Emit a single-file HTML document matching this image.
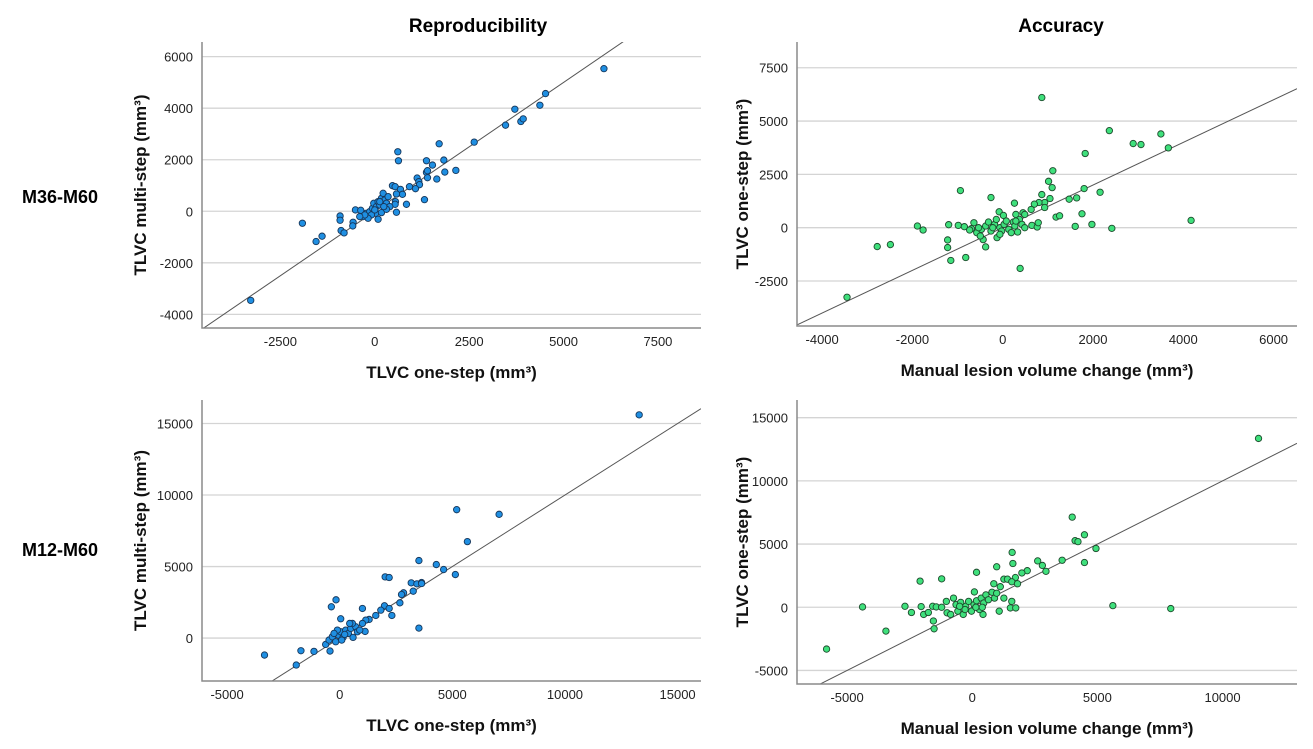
<!DOCTYPE html>
<html><head><meta charset="utf-8"><style>
body{margin:0;background:#fff;width:1313px;height:744px;overflow:hidden}
svg text{font-family:"Liberation Sans",sans-serif}
.t{font-family:"Liberation Sans",sans-serif;font-weight:bold}
</style></head><body>
<svg id="c" width="1313" height="744">
<text class="t" x="478" y="32" font-size="19" text-anchor="middle">Reproducibility</text>
<text class="t" x="1061" y="32" font-size="19" text-anchor="middle">Accuracy</text>
<text class="t" x="22" y="203" font-size="18">M36-M60</text>
<text class="t" x="22" y="556" font-size="18">M12-M60</text>
</svg>
<script>
// Panel 1: M36-M60 reproducibility
const p1X=[6069,4523,3710,4373,3463,3869,3931,2633,1705,610,627,1369,1829,1528,2147,1855,1369,1396,1643,1122,1396,1166,1184,1078,919,468,539,680,733,574,839,1316,548,539,574,-1917,-1555,-1396,-3286,-919,-919,-892,-813,-574,-583,-512,-371,-309,-221,-133,-62,-27,44,88,133,177,221,265,309,353,398,27,88,-88,177,309,0,-177,-265,-398,133,239];
const p1Y=[5534,4567,3960,4115,3341,3483,3586,2683,2619,2309,1961,1961,1987,1793,1587,1522,1509,1574,1251,1290,1303,1148,1032,877,955,993,955,851,658,671,271,451,374,271,-39,-464,-1174,-967,-3457,-181,-348,-748,-838,-426,-568,52,39,-206,-77,-13,116,310,181,374,245,503,697,439,310,568,181,-77,-310,-142,-52,77,52,-271,-142,-206,374,181];
const p1XTicks=[-2500,0,2500,5000,7500];
const p1YTicks=[-4000,-2000,0,2000,4000,6000];
// Panel 2: M36-M60 accuracy
const p2X=[866,2362,3504,2890,3063,3669,1827,1110,1016,1095,1803,2157,-937,-260,260,866,1047,929,803,701,929,1472,1638,1756,1181,1260,1606,1976,2417,4173,-79,16,291,449,630,-1890,-1764,-1197,-984,-1220,-1220,-1150,-819,-378,-433,386,-2780,-2488,-3449,-638,-693,-575,-496,-472,-378,-315,-260,-181,-142,-126,-63,-24,31,79,134,189,236,268,331,370,425,488,291,488,646,764,787,-63,-220,-535,-850,-732];
const p2Y=[6103,4550,4395,3945,3898,3743,3479,2671,2174,1879,1833,1662,1739,1413,1149,1553,1367,1180,1180,1103,947,1336,1398,652,497,559,62,155,-31,342,745,575,621,699,854,78,-109,140,109,-575,-932,-1537,-1398,-901,-559,-1910,-885,-792,-3261,233,-47,-233,-388,-78,78,264,-155,155,388,-466,0,-155,155,311,-78,-233,264,78,-202,388,155,0,311,621,109,31,233,-311,0,0,47,-109];
const p2XTicks=[-4000,-2000,0,2000,4000,6000];
const p2YTicks=[-2500,0,2500,5000,7500];
// Panel 3: M12-M60 reproducibility
const p3X=[13294,5193,7077,5668,3516,4288,4614,5134,2018,2196,3175,3427,3635,3635,3264,2834,2745,2671,3516,1988,1825,2196,2315,1602,1306,1157,1009,1128,1009,-163,-371,45,-3338,-1721,-1142,-1929,-430,-623,-475,-326,-178,-59,45,148,267,386,490,593,712,786,890,-104,89,-252,222,564,445];
const p3Y=[15605,8977,8651,6744,5419,5140,4791,4442,4279,4233,3861,3791,3884,3814,3279,3163,3047,2465,698,2256,1953,2070,1581,1581,1302,1256,1023,465,2070,2674,2186,1349,-1186,-884,-930,-1884,-907,-442,-140,93,-256,209,442,47,558,326,674,47,791,442,558,558,-140,326,256,1023,1023];
const p3XTicks=[-5000,0,5000,10000,15000];
const p3YTicks=[0,5000,10000,15000];
// Panel 4: M12-M60 accuracy
const p4X=[11437,3994,4483,4109,4224,4943,1595,2615,3592,1624,2802,2945,4483,977,2198,1983,172,-1221,-2083,1264,1408,1724,1580,1810,862,1121,86,5618,7931,-4382,-5819,-3448,-2687,-2428,-2040,-1940,-1753,-1552,-1523,1580,1523,1739,1264,1078,431,-1580,-1437,-1221,-1034,-1006,-862,-747,-647,-575,-460,-359,-259,-144,-29,72,172,287,359,460,546,647,790,891,977,-287,-503,144,402];
const p4Y=[13359,7132,5736,5271,5194,4651,4341,3669,3721,3463,3308,2842,3540,3204,2894,2713,2765,2248,2067,2222,2222,2351,2016,1860,1860,1628,1214,129,-103,26,-3308,-1886,78,-413,52,-568,-413,-1085,-1705,465,-52,-52,724,-310,-568,78,26,0,465,-439,-568,724,207,-310,388,-568,78,465,-310,207,517,-181,724,336,982,595,1189,724,1111,-181,78,0,0];
const p4XTicks=[-5000,0,5000,10000];
const p4YTicks=[-5000,0,5000,10000,15000];

const NS='http://www.w3.org/2000/svg';
const svg=document.getElementById('c');
function mk(tag,attrs,parent){const e=document.createElementNS(NS,tag);for(const k in attrs)e.setAttribute(k,attrs[k]);(parent||svg).appendChild(e);return e;}

function panel(id,box,xd,yd,xs,ys,xt,yt,fill,stroke,xTitle,yTitle,yTitleX){
  const g=mk('g',{});
  
  
  const sx=v=>box.l+(v-xd[0])/(xd[1]-xd[0])*(box.r-box.l);
  const sy=v=>box.b-(v-yd[0])/(yd[1]-yd[0])*(box.b-box.t);
  yt.forEach(v=>{
    const ln=mk('line',{x1:box.l,x2:box.r,y1:sy(v),y2:sy(v),stroke:'#d4d4d4','stroke-width':1.3},g);
    
    
    const t=mk('text',{x:box.l-9,y:sy(v)+5,'font-size':13,'text-anchor':'end',fill:'#222'},g);
    
    
    t.textContent=v;
  });
  xt.forEach(v=>{
    const t=mk('text',{x:sx(v),y:box.b+18,'font-size':13,'text-anchor':'middle',fill:'#222'},g);
    
    
    t.textContent=v;
  });
  const cid='clip-'+id;
  const cp=mk('clipPath',{id:cid},g);
  mk('rect',{x:box.l,y:box.t,width:box.r-box.l,height:box.b-box.t},cp);
  const ref=mk('line',{x1:sx(xd[0]),y1:sy(xd[0]),x2:sx(xd[1]),y2:sy(xd[1]),stroke:'#555','stroke-width':1,'clip-path':'url(#'+cid+')'},g);
  
  
  for(let i=0;i<xs.length;i++){
    const c=mk('circle',{cx:sx(xs[i]),cy:sy(ys[i]),r:3.2,fill:fill,stroke:stroke,'stroke-width':0.9},g);
    
    
  }
  const ax=mk('path',{d:`M${box.l},${box.t}V${box.b}H${box.r}`,fill:'none',stroke:'#8a8a8a','stroke-width':1.5},g);
  
  
  const xtT=mk('text',{x:(box.l+box.r)/2,y:box.b+50,'font-size':17,'text-anchor':'middle',class:'t',fill:'#111'},g);
  
  
  xtT.textContent=xTitle;
  const cy=(box.t+box.b)/2;
  const ytT=mk('text',{x:yTitleX,y:cy,'font-size':17,'text-anchor':'middle',class:'t',fill:'#111',transform:`rotate(-90 ${yTitleX} ${cy})`},g);
  
  
  ytT.textContent=yTitle;
}
const blue='#1f8fe2',blueS='#16365a',green='#3fe07c',greenS='#1d4a2c';
panel('m36-reproducibility',{l:202,r:701,t:42,b:328},[-4576,8640],[-4529,6568],p1X,p1Y,p1XTicks,p1YTicks,blue,blueS,'TLVC one-step (mm³)','TLVC multi-step (mm³)',146);
panel('m36-accuracy',{l:797,r:1297,t:42,b:326},[-4557,6519],[-4609,8706],p2X,p2Y,p2XTicks,p2YTicks,green,greenS,'Manual lesion volume change (mm³)','TLVC one-step (mm³)',748);
panel('m12-reproducibility',{l:202,r:701,t:400,b:681},[-6113,16039],[-3000,16643],p3X,p3Y,p3XTicks,p3YTicks,blue,blueS,'TLVC one-step (mm³)','TLVC multi-step (mm³)',146);
panel('m12-accuracy',{l:797,r:1297,t:400,b:684},[-7000,12974],[-6072,16400],p4X,p4Y,p4XTicks,p4YTicks,green,greenS,'Manual lesion volume change (mm³)','TLVC one-step (mm³)',748);
</script>
</body></html>
